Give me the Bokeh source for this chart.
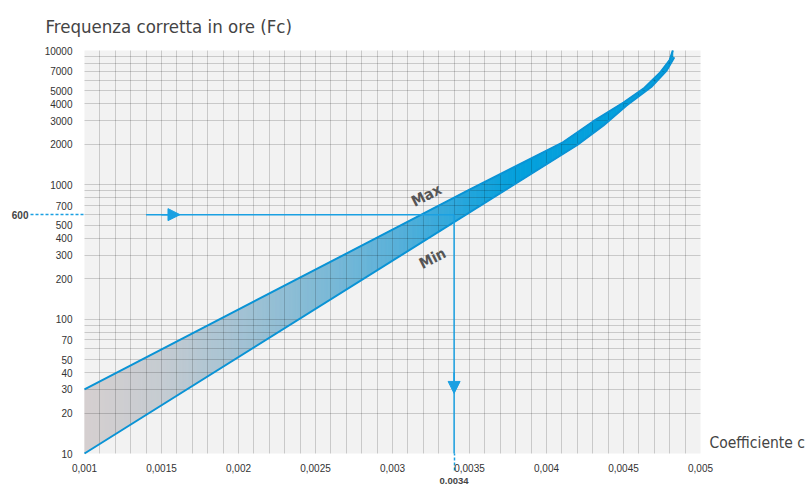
import numpy as np
from bokeh.plotting import figure
from bokeh.models import (Range1d, FixedTicker, Label, Arrow, NormalHead, LogAxis, LinearAxis,
                          CustomJSTickFormatter, ColumnDataSource)
from bokeh.embed import file_html
from bokeh.resources import INLINE

# ---------------- data ----------------
max_c = [0.001, 0.0035, 0.0041, 0.0043, 0.0045, 0.00463, 0.00474, 0.0048, 0.00482]
max_f = [30, 920, 2050, 2950, 4100, 5200, 6900, 8500, 10000]
min_c = [0.001, 0.0042, 0.00437, 0.00452, 0.00468, 0.00478, 0.00483]
min_f = [10, 1980, 2770, 3900, 5350, 7100, 8900]

x_ticks = [0.001, 0.0015, 0.002, 0.0025, 0.003, 0.0035, 0.004, 0.0045, 0.005]
y_ticks = [10, 20, 30, 40, 50, 70, 100, 200, 300, 400, 500, 700,
           1000, 2000, 3000, 4000, 5000, 7000, 10000]

read_c = 0.0034      # example coefficient
read_f = 600         # example frequency
start_c = 0.0014     # start of the reading line
h_head = [0.0015, 0.00162]   # horizontal arrow head (from, tip)
v_head = [40, 28]            # vertical arrow head (from, tip)
xlabel_f = 12                # height at which "Coefficiente c" sits

title_text = "Frequenza corretta in ore (Fc)"
xlabel_text = "Coefficiente c"

# ---------------- styles ----------------
NARROW = "'Liberation Sans Narrow', 'DejaVu Sans Condensed', sans-serif"
SANS = "'Liberation Sans', Arial, sans-serif"
LINE_BLUE = "#0a93d5"
ARROW_BLUE = "#1aa0e2"
grad_c = [0.001, 0.0015, 0.002, 0.0025, 0.003, 0.0035, 0.0038]
grad_rgb = [(214, 208, 208), (198, 204, 210), (165, 195, 212), (130, 187, 214),
            (92, 178, 218), (35, 166, 221), (5, 160, 220)]

p = figure(width=810, height=487,
           x_range=Range1d(0.001, 0.005), y_range=Range1d(10, 10000),
           y_axis_type="log", output_backend="svg", toolbar_location=None,
           min_border_left=84, min_border_right=110,
           min_border_top=50, min_border_bottom=34)
p.background_fill_color = "#f2f2f2"
p.border_fill_color = "white"
p.outline_line_color = None

# title
p.title.text = title_text
p.title.align = "left"
p.title.vertical_align = "top"
p.title.offset = -39
p.title.standoff = 24
p.title.text_font = NARROW
p.title.text_font_size = "18.5px"
p.title.text_font_style = "normal"
p.title.text_color = "#444444"

def plain(ax):
    ax.axis_line_color = None
    ax.major_tick_line_color = None
    ax.minor_tick_line_color = None
    ax.major_tick_in = 0
    ax.major_tick_out = 0
    ax.minor_tick_in = 0
    ax.minor_tick_out = 0

num_fmt = CustomJSTickFormatter(code="return tick.toString();")

# x axis (minor tick = dashed leader below 0.0034)
xax = p.xaxis[0]
plain(xax)
xax.ticker = FixedTicker(ticks=x_ticks, minor_ticks=[read_c])
xax.formatter = CustomJSTickFormatter(code="return tick.toString().replace('.', ',');")
xax.minor_tick_out = 17
xax.minor_tick_line_color = ARROW_BLUE
xax.minor_tick_line_width = 1.5
xax.minor_tick_line_dash = "3 2"
xax.major_label_standoff = -7
xax.major_label_text_font_size = "10px"
xax.major_label_text_color = "#333333"
xax.major_label_text_font = SANS

# second x axis showing the read value
ax34 = LinearAxis(ticker=FixedTicker(ticks=[read_c]), formatter=num_fmt)
plain(ax34)
ax34.major_label_standoff = 3
ax34.major_label_text_font_size = "9.5px"
ax34.major_label_text_font_style = "bold"
ax34.major_label_text_color = "#444444"
ax34.major_label_text_font = SANS
p.add_layout(ax34, "below")

# y axis (minor tick = dashed leader left of 600)
yax = p.yaxis[0]
plain(yax)
yax.ticker = FixedTicker(ticks=y_ticks, minor_ticks=[read_f])
yax.formatter = num_fmt
yax.minor_tick_out = 54
yax.minor_tick_line_color = ARROW_BLUE
yax.minor_tick_line_width = 1.5
yax.minor_tick_line_dash = "3 2"
yax.major_label_standoff = -42
yax.major_label_text_font_size = "10px"
yax.major_label_text_color = "#333333"
yax.major_label_text_font = SANS

# outer left axis with the read frequency
ax600 = LogAxis(ticker=FixedTicker(ticks=[read_f]), formatter=num_fmt)
plain(ax600)
ax600.major_label_standoff = 13
ax600.major_label_text_font_size = "10px"
ax600.major_label_text_font_style = "bold"
ax600.major_label_text_color = "#444444"
ax600.major_label_text_font = SANS
p.add_layout(ax600, "left")

# right axis carrying the x label text
axc = LogAxis(ticker=FixedTicker(ticks=[xlabel_f]),
              formatter=CustomJSTickFormatter(args=dict(t=xlabel_text), code="return t;"))
plain(axc)
axc.major_label_standoff = 9
axc.major_label_text_font_size = "15.5px"
axc.major_label_text_color = "#444444"
axc.major_label_text_font = NARROW
p.add_layout(axc, "right")

# grids
xgrid = [round(0.001 + i * 0.0001, 5) for i in range(41)]
ygrid = [m * 10 ** e for e in range(1, 4) for m in range(1, 10)] + [10000]
p.xgrid.ticker = FixedTicker(ticks=xgrid)
p.ygrid.ticker = FixedTicker(ticks=ygrid)
p.grid.grid_line_color = "black"
p.grid.grid_line_alpha = 0.17
p.grid.grid_line_width = 1
p.grid.level = "guide"

# gradient band between Min and Max (drawn as thin strips)
lmax = np.log10(max_f)
lmin = np.log10(min_f)
edges = np.linspace(max(max_c[0], min_c[0]), min(max_c[-1], min_c[-1]), 240)
def up(c):
    return 10 ** np.interp(c, max_c, lmax)
def lo(c):
    return 10 ** np.interp(c, min_c, lmin)
def col(c):
    r = np.interp(c, grad_c, [g[0] for g in grad_rgb])
    g = np.interp(c, grad_c, [g[1] for g in grad_rgb])
    b = np.interp(c, grad_c, [g[2] for g in grad_rgb])
    return "#%02x%02x%02x" % (int(r), int(g), int(b))
xs, ys, cols = [], [], []
for c0, c1 in zip(edges[:-1], edges[1:]):
    xs.append([c0, c1, c1, c0])
    ys.append([up(c0), up(c1), lo(c1), lo(c0)])
    cols.append(col(0.5 * (c0 + c1)))
src = ColumnDataSource(dict(xs=xs, ys=ys, c=cols))
p.patches("xs", "ys", source=src, fill_color="c", line_color="c", line_width=1)

# Max / Min lines
p.line(max_c, max_f, line_color=LINE_BLUE, line_width=2, level="annotation")
p.line(min_c, min_f, line_color=LINE_BLUE, line_width=2, level="annotation")

# reading lines with arrow heads
p.line([start_c, read_c, read_c], [read_f, read_f, y_ticks[0]],
       line_color=ARROW_BLUE, line_width=1.5, level="annotation")
p.add_layout(Arrow(end=NormalHead(size=12, fill_color=ARROW_BLUE, line_color=ARROW_BLUE),
                   x_start=h_head[0], y_start=read_f, x_end=h_head[1], y_end=read_f,
                   line_color=ARROW_BLUE, line_width=1.5))
p.add_layout(Arrow(end=NormalHead(size=12, fill_color=ARROW_BLUE, line_color=ARROW_BLUE),
                   x_start=read_c, y_start=v_head[0], x_end=read_c, y_end=v_head[1],
                   line_color=ARROW_BLUE, line_width=1.5))

# Max / Min labels
p.add_layout(Label(x=0.003221, y=833, text="Max", angle=0.47, text_align="center",
                   text_baseline="middle", text_font=NARROW, text_font_style="bold",
                   text_font_size="15px", text_color="#555555"))
p.add_layout(Label(x=0.00326, y=283, text="Min", angle=0.47, text_align="center",
                   text_baseline="middle", text_font=NARROW, text_font_style="bold",
                   text_font_size="15px", text_color="#555555"))

open("out.html", "w").write(file_html(p, INLINE))
